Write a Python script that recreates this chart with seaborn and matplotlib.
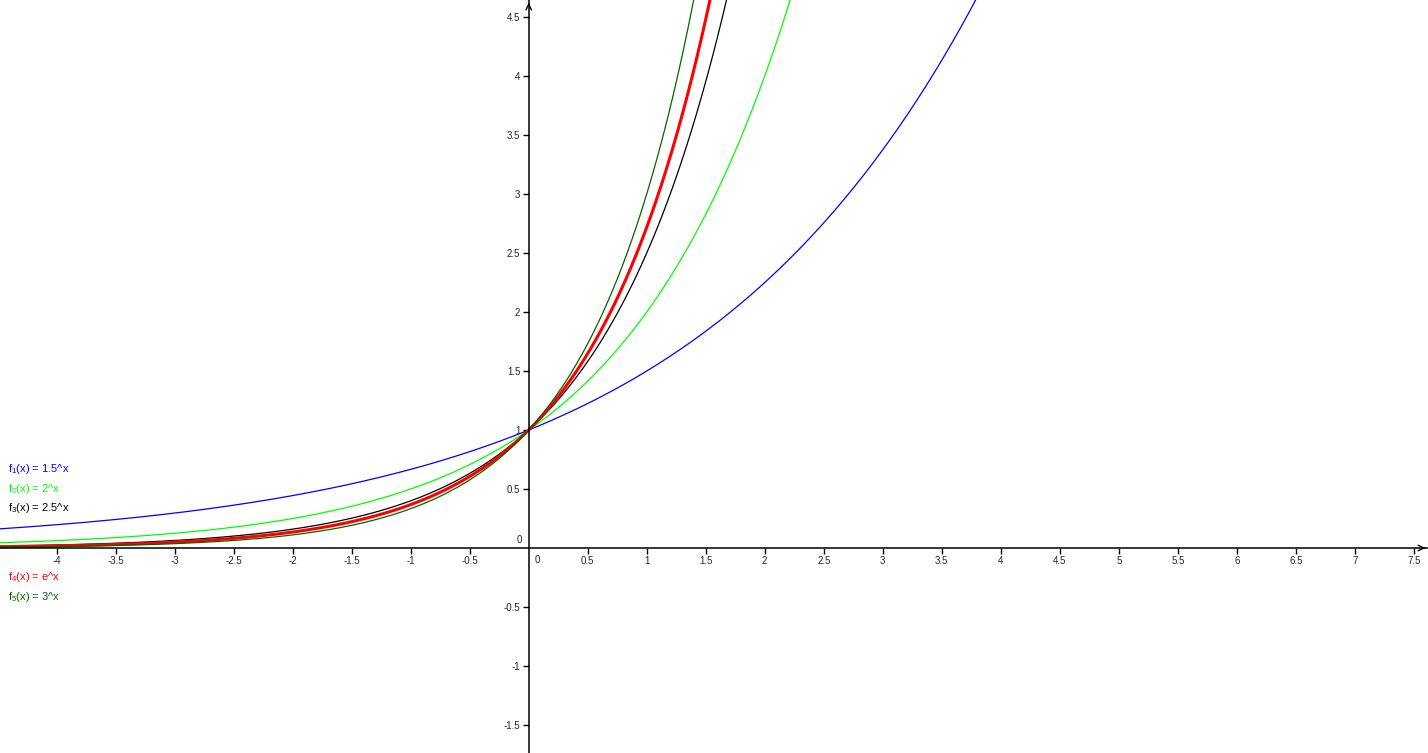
import numpy as np
import pandas as pd
import matplotlib
matplotlib.use("Agg")
import matplotlib.pyplot as plt
import seaborn as sns

# functions f(x) = base^x
names = ["f1", "f2", "f3", "f4", "f5"]
bases = [1.5, 2.0, 2.5, np.e, 3.0]
base_labels = ["1.5^x", "2^x", "2.5^x", "e^x", "3^x"]
colors = ["#0000ff", "#00ff00", "#000000", "#ff0000", "#006400"]
widths = [0.9, 0.9, 0.9, 2.2, 0.9]

x_ticks = [-4, -3.5, -3, -2.5, -2, -1.5, -1, -0.5, 0.5, 1, 1.5, 2, 2.5, 3, 3.5,
           4, 4.5, 5, 5.5, 6, 6.5, 7, 7.5]
y_ticks = [-1.5, -1, -0.5, 0.5, 1, 1.5, 2, 2.5, 3, 3.5, 4, 4.5]

sns.set_style("white")
plt.rcParams["font.family"] = ["Liberation Sans", "DejaVu Sans"]
plt.rcParams["mathtext.default"] = "regular"

xs = np.linspace(-4.6, 4.0, 800)
rows = []
for n, b in zip(names, bases):
    rows.append(pd.DataFrame({"x": xs, "y": b ** xs, "f": n}))
df = pd.concat(rows)

fig = plt.figure(figsize=(14.28, 7.53), dpi=100)
ax = fig.add_axes([0, 0, 1, 1])

for n, c, w in zip(names, colors, widths):
    sns.lineplot(data=df[df["f"] == n], x="x", y="y", color=c, linewidth=w,
                 estimator=None, sort=False, ax=ax)

ax.set_xlim(-4.48, 7.62)
ax.set_ylim(-1.737, 4.644)

# axes through the origin
for s in ["top", "right"]:
    ax.spines[s].set_visible(False)
ax.spines["left"].set_position("zero")
ax.spines["bottom"].set_position("zero")
for s in ["left", "bottom"]:
    ax.spines[s].set_linewidth(1.1)
    ax.spines[s].set_color("black")

ax.set_xticks(x_ticks)
ax.set_xticklabels([f"{t:g}" for t in x_ticks])
ax.set_yticks(y_ticks)
ax.set_yticklabels([f"{t:g}" for t in y_ticks])
ax.tick_params(axis="both", direction="out", length=4, width=1, color="black",
               labelsize=7, pad=2)
ax.tick_params(axis="x", bottom=True)
ax.tick_params(axis="y", left=True)
ax.set_xlabel("")
ax.set_ylabel("")

# origin labels
ax.annotate("0", (0, 0), xytext=(6, -5), textcoords="offset points",
            ha="center", va="top", fontsize=7)
ax.annotate("0", (0, 0), xytext=(-5, 2), textcoords="offset points",
            ha="right", va="bottom", fontsize=7)

# arrow heads on the axes
ax.annotate("", xy=(1.0, 0), xytext=(0.995, 0), xycoords=ax.get_yaxis_transform(),
            textcoords=ax.get_yaxis_transform(),
            arrowprops=dict(arrowstyle="->", color="black", lw=1))
ax.annotate("", xy=(0, 1.0), xytext=(0, 0.99), xycoords=ax.get_xaxis_transform(),
            textcoords=ax.get_xaxis_transform(),
            arrowprops=dict(arrowstyle="->", color="black", lw=1))

# function labels
label_y = [0.3772, 0.3506, 0.3254, 0.2337, 0.2072]
for i, (bl, c, ly) in enumerate(zip(base_labels, colors, label_y)):
    ax.text(0.0056, ly, f"f$_{i + 1}$(x) = {bl}", color=c, fontsize=8,
            transform=ax.transAxes, ha="left", va="center")

fig.savefig("out.png", dpi=100)
